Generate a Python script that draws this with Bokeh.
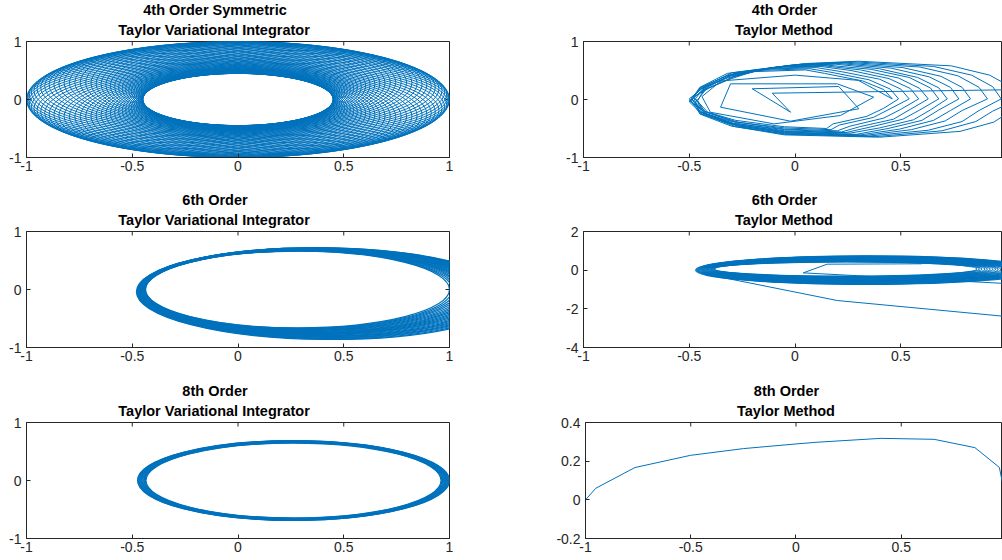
import numpy as np
from bokeh.plotting import figure
from bokeh.layouts import column, row
from bokeh.models import FixedTicker, Range1d, ColumnDataSource, Title
from bokeh.embed import file_html
from bokeh.resources import INLINE

BLUE = "#0072BD"
AXIS = "#262626"
FONT = "Liberation Sans"

# ---------------- ticks / titles ----------------
x_ticks = [-1.0, -0.5, 0.0, 0.5, 1.0]
x_tick_labels = ["-1", "-0.5", "0", "0.5", "1"]
unit_ticks = [-1.0, 0.0, 1.0]
unit_tick_labels = ["-1", "0", "1"]
t6_ticks = [-4.0, -2.0, 0.0, 2.0]
t6_tick_labels = ["-4", "-2", "0", "2"]
t8_ticks = [-0.2, 0.0, 0.2, 0.4]
t8_tick_labels = ["-0.2", "0", "0.2", "0.4"]

title_lines = [
    ("4th Order Symmetric", "Taylor Variational Integrator"),
    ("4th Order", "Taylor Method"),
    ("6th Order", "Taylor Variational Integrator"),
    ("6th Order", "Taylor Method"),
    ("8th Order", "Taylor Variational Integrator"),
    ("8th Order", "Taylor Method"),
]

# ---------------- data ----------------
# 4th order symmetric VI: precessing loops (aphelion, perihelion, apse direction in degrees)
vi4_apse_deg = [0, 5, 10, 15, 20, 25, 30, 35, 40, 45, 50, 55, 60, 65, 70, 75, 80, 85,
                90, 95, 100, 105, 110, 115, 120, 125, 130, 135, 140, 145, 150, 155, 160, 165, 170, 175,
                180, 185, 190, 195, 200, 205, 210, 215, 220, 225, 230, 235, 240, 245, 250, 255, 260, 265,
                270, 275, 280, 285, 290, 295, 300, 305, 310, 315, 320, 325, 330, 335, 340, 345, 350, 355]
vi4_aphelion = [1.0] * len(vi4_apse_deg)
vi4_perihelion = [0.45] * len(vi4_apse_deg)

# 6th order VI: loops slowly growing and turning clockwise
vi6_aphelion = [1.000, 1.013, 1.026, 1.039, 1.052, 1.065, 1.078, 1.091, 1.104, 1.117, 1.130, 1.143,
                1.157, 1.170, 1.183, 1.196, 1.209, 1.222, 1.235, 1.248, 1.261, 1.274, 1.287, 1.300]
vi6_perihelion = [0.437, 0.439, 0.440, 0.442, 0.444, 0.446, 0.447, 0.449, 0.451, 0.453, 0.454, 0.456,
                  0.458, 0.460, 0.461, 0.463, 0.465, 0.467, 0.468, 0.470, 0.472, 0.474, 0.475, 0.477]
vi6_apse_deg = [0.0, -0.4, -0.9, -1.3, -1.7, -2.2, -2.6, -3.0, -3.5, -3.9, -4.3, -4.8,
                -5.2, -5.7, -6.1, -6.5, -7.0, -7.4, -7.8, -8.3, -8.7, -9.1, -9.6, -10.0]

# 8th order VI: narrow band of nearly identical loops
vi8_aphelion = [1.000, 0.997, 0.993, 0.990, 0.986, 0.983, 0.979, 0.976, 0.972, 0.968, 0.964, 0.960]
vi8_perihelion = [0.475, 0.472, 0.468, 0.465, 0.461, 0.458, 0.454, 0.450, 0.446, 0.443, 0.439, 0.435]
vi8_apse_deg = [0.0] * len(vi8_aphelion)

# 4th order Taylor method: one trajectory (inner start + growing coarse loops)
taylor4_start_x = [1.05, -0.108, -0.021, -0.202, 0.207, 0.302, -0.021, -0.352, -0.305, 0.2, 0.372, 0.215, -0.1, -0.40, -0.44, -0.35, 0.0, 0.3]
taylor4_start_y = [0.17, 0.109, -0.219, 0.185, 0.224, -0.16, -0.374, -0.133, 0.27, 0.27, 0.04, -0.276, -0.42, -0.22, 0.05, 0.32, 0.42, 0.33]
taylor4_loops_x = [
    [0.46, 0.42, 0.32, 0.14, 0.05, -0.20, -0.30, -0.43, -0.46, -0.43, -0.28, -0.05, 0.15, 0.18, 0.34, 0.42],
    [0.49, 0.45, 0.35, 0.17, 0.07, -0.18, -0.32, -0.45, -0.49, -0.45, -0.30, -0.05, 0.17, 0.21, 0.37, 0.45],
    [0.54, 0.50, 0.40, 0.22, 0.10, -0.15, -0.29, -0.42, -0.47, -0.42, -0.27, -0.05, 0.20, 0.26, 0.42, 0.50],
    [0.585, 0.545, 0.445, 0.265, 0.12, -0.13, -0.31, -0.44, -0.50, -0.44, -0.29, -0.05, 0.22, 0.305, 0.465, 0.545],
    [0.63, 0.59, 0.49, 0.31, 0.14, -0.11, -0.28, -0.41, -0.48, -0.41, -0.26, -0.05, 0.24, 0.35, 0.51, 0.59],
    [0.68, 0.64, 0.54, 0.36, 0.16, -0.09, -0.32, -0.45, -0.49, -0.45, -0.30, -0.05, 0.26, 0.40, 0.56, 0.64],
    [0.72, 0.68, 0.58, 0.40, 0.19, -0.06, -0.30, -0.43, -0.47, -0.43, -0.28, -0.05, 0.29, 0.44, 0.60, 0.68],
    [0.775, 0.735, 0.635, 0.455, 0.21, -0.04, -0.31, -0.44, -0.50, -0.44, -0.29, -0.05, 0.31, 0.495, 0.655, 0.735],
    [0.83, 0.79, 0.69, 0.51, 0.23, -0.02, -0.29, -0.42, -0.49, -0.42, -0.27, -0.05, 0.33, 0.55, 0.71, 0.79],
    [0.91, 0.87, 0.77, 0.59, 0.25, 0.00, -0.32, -0.45, -0.48, -0.45, -0.30, -0.05, 0.35, 0.63, 0.79, 0.87],
    [0.975, 0.935, 0.835, 0.655, 0.28, 0.03, -0.28, -0.41, -0.50, -0.41, -0.26, -0.05, 0.38, 0.695, 0.855, 0.935],
    [1.06, 1.02, 0.92, 0.74, 0.30, 0.05, -0.30, -0.43, -0.49, -0.43, -0.28, -0.05, 0.40, 0.78, 0.94, 1.02],
]
taylor4_loops_y = [
    [0.01, 0.17, 0.32, 0.45, 0.51, 0.48, 0.36, 0.17, -0.02, -0.20, -0.36, -0.47, -0.50, -0.42, -0.29, -0.15],
    [0.01, 0.18, 0.34, 0.47, 0.53, 0.50, 0.37, 0.18, 0.03, -0.21, -0.38, -0.49, -0.52, -0.44, -0.31, -0.16],
    [0.01, 0.18, 0.35, 0.48, 0.55, 0.52, 0.39, 0.18, -0.05, -0.22, -0.39, -0.51, -0.54, -0.46, -0.32, -0.17],
    [0.01, 0.19, 0.36, 0.50, 0.57, 0.53, 0.40, 0.19, 0.01, -0.23, -0.41, -0.52, -0.56, -0.47, -0.34, -0.17],
    [0.01, 0.19, 0.37, 0.51, 0.58, 0.55, 0.41, 0.19, 0.04, -0.23, -0.42, -0.54, -0.57, -0.48, -0.34, -0.18],
    [0.01, 0.20, 0.38, 0.52, 0.59, 0.56, 0.41, 0.20, -0.03, -0.24, -0.42, -0.55, -0.58, -0.49, -0.35, -0.18],
    [0.01, 0.20, 0.38, 0.53, 0.61, 0.57, 0.42, 0.20, 0.02, -0.24, -0.43, -0.56, -0.60, -0.50, -0.36, -0.18],
    [0.01, 0.21, 0.39, 0.54, 0.62, 0.58, 0.43, 0.21, -0.04, -0.25, -0.44, -0.57, -0.61, -0.51, -0.36, -0.19],
    [0.01, 0.21, 0.40, 0.55, 0.63, 0.59, 0.44, 0.21, 0.00, -0.25, -0.45, -0.58, -0.62, -0.52, -0.37, -0.19],
    [0.01, 0.21, 0.41, 0.56, 0.64, 0.60, 0.45, 0.21, 0.05, -0.25, -0.46, -0.59, -0.63, -0.53, -0.38, -0.19],
    [0.01, 0.22, 0.42, 0.57, 0.65, 0.61, 0.46, 0.22, -0.02, -0.26, -0.47, -0.60, -0.64, -0.54, -0.38, -0.20],
    [0.01, 0.22, 0.42, 0.58, 0.66, 0.62, 0.46, 0.22, 0.03, -0.26, -0.47, -0.61, -0.65, -0.55, -0.39, -0.20],
]
taylor4_end_x = [1.12]
taylor4_end_y = [0.0]

# 6th order Taylor method: dense band of loops + stray steps + escape
t6_center_x = [0.240, 0.244, 0.248, 0.253, 0.257, 0.262, 0.266, 0.271, 0.275, 0.279, 0.284, 0.288,
               0.292, 0.297, 0.301, 0.305, 0.310, 0.314, 0.318, 0.323, 0.327, 0.331, 0.336, 0.340]
t6_center_y = [0.060, 0.058, 0.055, 0.052, 0.050, 0.047, 0.044, 0.042, 0.039, 0.036, 0.034, 0.031,
               0.029, 0.026, 0.023, 0.021, 0.018, 0.016, 0.013, 0.010, 0.008, 0.005, 0.003, 0.000]
t6_width = [1.240, 1.255, 1.272, 1.290, 1.305, 1.322, 1.340, 1.355, 1.372, 1.388, 1.405, 1.421,
            1.438, 1.455, 1.470, 1.488, 1.505, 1.520, 1.537, 1.553, 1.570, 1.588, 1.603, 1.620]
t6_height = [0.740, 0.770, 0.805, 0.836, 0.870, 0.900, 0.934, 0.965, 0.998, 1.030, 1.061, 1.095,
             1.126, 1.158, 1.191, 1.222, 1.255, 1.288, 1.320, 1.350, 1.384, 1.415, 1.449, 1.480]
t6_steps_x = [1.05, 0.039, 0.152, 0.60]
t6_steps_y = [-0.72, -0.14, 0.31, 0.33]
t6_escape_x = [-0.44, -0.32, 0.20, 1.05]
t6_escape_y = [-0.10, -0.43, -1.57, -2.45]

# 8th order Taylor method
t8_x = [-1.0, -0.951, -0.765, -0.502, -0.25, 0.0, 0.10, 0.404, 0.656, 0.85, 0.966, 0.98, 1.0]
t8_y = [0.0, 0.06, 0.167, 0.23, 0.265, 0.289, 0.298, 0.318, 0.313, 0.27, 0.168, 0.094, 0.0]

# ---------------- layout constants ----------------
TOP = 41
FRAME_H = 116
BOTTOMS = [33, 34, 20]
LEFT_W, LEFT_BL, LEFT_FW = 553, 26, 423
RIGHT_W, RIGHT_BL, RIGHT_FW = 449, 30, 419
RIGHT_XEND = -1.0 + RIGHT_FW * 2.0 / LEFT_FW
TICK_PX = 4.0
TITLE_PX = 14.5
TITLE_CENTER_LEFT = 214.5 - LEFT_BL      # title centre, measured from the frame's left edge
TITLE_CENTER_RIGHT = 784.0 - 583.0

# Liberation Sans Bold advance widths (em) for estimating title widths
BOLD_EM = {"4": .556, "6": .556, "8": .556, "t": .333, "h": .611, " ": .278, "O": .778, "r": .389,
           "d": .611, "e": .556, "S": .667, "y": .556, "m": .889, "i": .278, "c": .556, "T": .611,
           "a": .556, "l": .278, "o": .611, "V": .667, "n": .611, "I": .278, "g": .611, "M": .833}


def text_px(s):
    return sum(BOLD_EM.get(ch, 0.6) for ch in s) * TITLE_PX


def orbit_ellipses(aphelion, perihelion, apse_deg, px_x, px_y):
    cx, cy, w, h, ang = [], [], [], [], []
    for Q, q, d in zip(aphelion, perihelion, apse_deg):
        a = (Q + q) / 2.0
        c = (Q - q) / 2.0
        b = np.sqrt(Q * q)
        t = np.radians(d)
        rot = np.array([[np.cos(t), -np.sin(t)], [np.sin(t), np.cos(t)]])
        m = np.diag([px_x, px_y]) @ rot @ np.diag([a, b])
        u, s, _ = np.linalg.svd(m)
        cx.append(c * np.cos(t))
        cy.append(c * np.sin(t))
        w.append(2 * s[0] / px_x)
        h.append(2 * s[1] / px_y)
        ang.append(float(np.arctan2(u[1, 0], u[0, 0])))
    return ColumnDataSource(dict(x=cx, y=cy, width=w, height=h, angle=ang))


def style_axis(ax, ticks, labels, standoff):
    ax.ticker = FixedTicker(ticks=ticks)
    ax.major_tick_in = int(TICK_PX)
    ax.major_tick_out = 0
    ax.minor_tick_line_color = None
    ax.major_tick_line_color = AXIS
    ax.major_tick_line_width = 1
    ax.axis_line_color = AXIS
    ax.axis_line_width = 1
    ax.major_label_overrides = {t: l for t, l in zip(ticks, labels)}
    ax.major_label_text_font = FONT
    ax.major_label_text_font_size = "14px"
    ax.major_label_text_color = AXIS
    ax.major_label_standoff = standoff


def style_title(t, text, center):
    t.text = text
    t.align = "left"
    t.offset = center - text_px(text) / 2.0
    t.text_font = FONT
    t.text_font_size = f"{TITLE_PX}px"
    t.text_font_style = "bold"
    t.text_color = "#000000"


def make_panel(idx, left_col, y_start, y_end, y_ticks, y_labels, bottom):
    width = LEFT_W if left_col else RIGHT_W
    bl = LEFT_BL if left_col else RIGHT_BL
    fw = LEFT_FW if left_col else RIGHT_FW
    br = width - bl - fw
    x_end = 1.0 if left_col else RIGHT_XEND
    center = TITLE_CENTER_LEFT if left_col else TITLE_CENTER_RIGHT
    line1, line2 = title_lines[idx]
    p = figure(width=width, height=TOP + FRAME_H + bottom,
               x_range=Range1d(-1.0, x_end), y_range=Range1d(y_start, y_end),
               output_backend="svg", toolbar_location=None, title=line1,
               min_border_left=bl, min_border_right=br, min_border_top=TOP,
               min_border_bottom=bottom)
    style_title(p.title, line1, center)
    p.title.standoff = -2
    sub = Title()
    style_title(sub, line2, center)
    sub.standoff = 7
    p.add_layout(sub, "above")
    p.xgrid.visible = False
    p.ygrid.visible = False
    p.outline_line_color = AXIS
    p.outline_line_width = 1
    p.background_fill_color = "white"
    p.border_fill_color = "white"
    style_axis(p.xaxis[0], x_ticks, x_tick_labels, 3)
    style_axis(p.yaxis[0], y_ticks, y_labels, 5)
    # mirrored inward ticks on the top (and right, where visible) edges of the box
    px_x = fw / (x_end + 1.0)
    px_y = FRAME_H / (y_end - y_start)
    tx = [t for t in x_ticks if t <= x_end]
    p.segment(x0=tx, y0=[y_end] * len(tx), x1=tx, y1=[y_end - TICK_PX / px_y] * len(tx),
              line_color=AXIS, line_width=1)
    if left_col:
        p.segment(x0=[x_end] * len(y_ticks), y0=y_ticks,
                  x1=[x_end - TICK_PX / px_x] * len(y_ticks), y1=y_ticks,
                  line_color=AXIS, line_width=1)
    return p


px_x_left = LEFT_FW / 2.0
px_y_unit = FRAME_H / 2.0

# Panel 1
p1 = make_panel(0, True, -1, 1, unit_ticks, unit_tick_labels, BOTTOMS[0])
p1.ellipse(x="x", y="y", width="width", height="height", angle="angle",
           source=orbit_ellipses(vi4_aphelion, vi4_perihelion, vi4_apse_deg, px_x_left, px_y_unit),
           fill_color=None, line_color=BLUE, line_width=1.0)

# Panel 2
p2 = make_panel(1, False, -1, 1, unit_ticks, unit_tick_labels, BOTTOMS[0])
t4x = list(taylor4_start_x)
t4y = list(taylor4_start_y)
for lx, ly in zip(taylor4_loops_x, taylor4_loops_y):
    t4x += lx
    t4y += ly
t4x += taylor4_end_x
t4y += taylor4_end_y
p2.line(t4x, t4y, line_color=BLUE, line_width=1)

# Panel 3
p3 = make_panel(2, True, -1, 1, unit_ticks, unit_tick_labels, BOTTOMS[1])
p3.ellipse(x="x", y="y", width="width", height="height", angle="angle",
           source=orbit_ellipses(vi6_aphelion, vi6_perihelion, vi6_apse_deg, px_x_left, px_y_unit),
           fill_color=None, line_color=BLUE, line_width=1.2)

# Panel 4
p4 = make_panel(3, False, -4, 2, t6_ticks, t6_tick_labels, BOTTOMS[1])
p4.ellipse(x=t6_center_x, y=t6_center_y, width=t6_width, height=t6_height,
           fill_color=None, line_color=BLUE, line_width=1.1)
p4.line(t6_steps_x, t6_steps_y, line_color=BLUE, line_width=1)
p4.line(t6_escape_x, t6_escape_y, line_color=BLUE, line_width=1)

# Panel 5
p5 = make_panel(4, True, -1, 1, unit_ticks, unit_tick_labels, BOTTOMS[2])
p5.ellipse(x="x", y="y", width="width", height="height", angle="angle",
           source=orbit_ellipses(vi8_aphelion, vi8_perihelion, vi8_apse_deg, px_x_left, px_y_unit),
           fill_color=None, line_color=BLUE, line_width=1.2)

# Panel 6
p6 = make_panel(5, False, -0.2, 0.4, t8_ticks, t8_tick_labels, BOTTOMS[2])
p6.line(t8_x, t8_y, line_color=BLUE, line_width=1)

layout = column(row(p1, p2), row(p3, p4), row(p5, p6))
open("out.html", "w").write(file_html(layout, INLINE))
